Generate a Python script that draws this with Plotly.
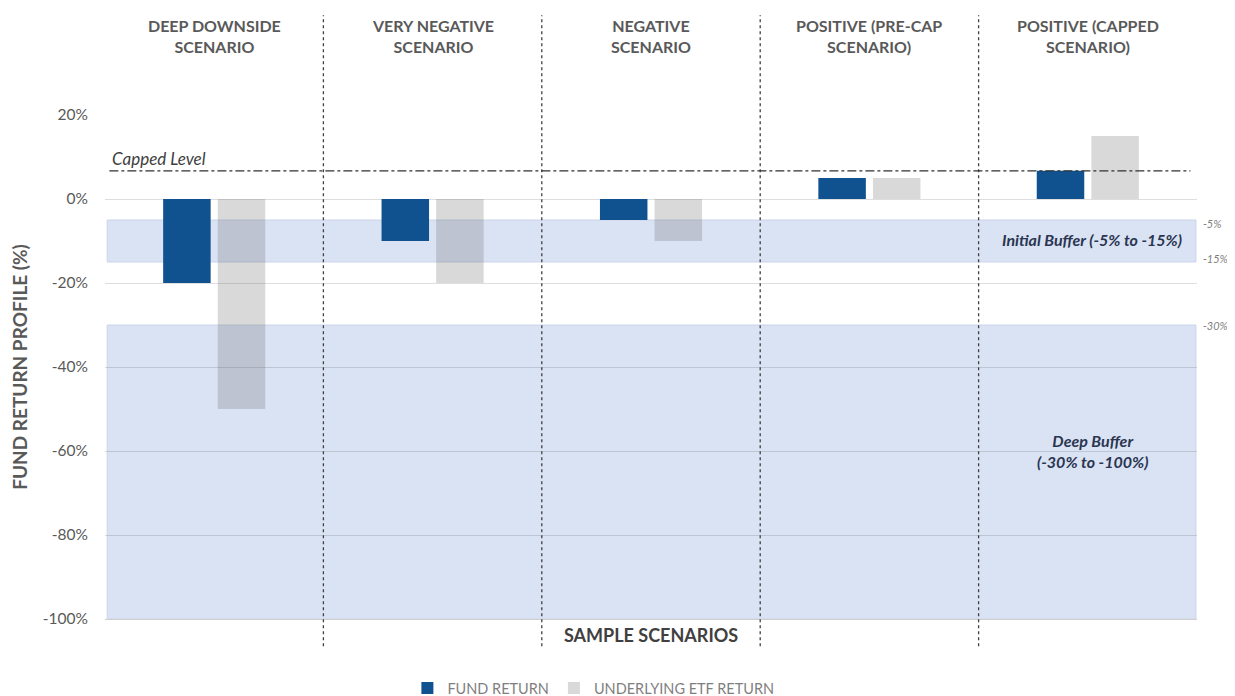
import plotly.graph_objects as go

categories = ["DEEP DOWNSIDE<br>SCENARIO", "VERY NEGATIVE<br>SCENARIO", "NEGATIVE<br>SCENARIO",
              "POSITIVE (PRE-CAP<br>SCENARIO)", "POSITIVE (CAPPED<br>SCENARIO)"]
fund_return = [-20, -10, -5, 5, 6.7]
etf_return = [-50, -20, -10, 5, 15]
cap_level = 6.7
initial_buffer = [-5, -15]
deep_buffer = [-30, -100]
y_ticks = [20, 0, -20, -40, -60, -80, -100]
y_ticktext = ["20%", "0%", "-20%", "-40%", "-60%", "-80%", "-100%"]

FONT = "Lato"
GRAY = "#595959"
x_idx = list(range(len(categories)))

fig = go.Figure()
fig.add_trace(go.Bar(x=x_idx, y=fund_return, name="FUND RETURN",
                     marker=dict(color="#10528f", line=dict(width=0))))
fig.add_trace(go.Bar(x=x_idx, y=etf_return, name="UNDERLYING ETF RETURN",
                     marker=dict(color="rgba(97,97,97,0.24)", line=dict(width=0))))

band_fill = "rgb(218,227,243)"
band_line = "rgb(202,212,232)"
for lo_hi in (initial_buffer, deep_buffer):
    fig.add_shape(type="rect", xref="x", yref="y", x0=-0.49, x1=4.495,
                  y0=lo_hi[0], y1=lo_hi[1], fillcolor=band_fill,
                  line=dict(color=band_line, width=1), layer="below")

# vertical dividers between scenarios
for i in range(len(categories) - 1):
    fig.add_shape(type="line", xref="x", yref="paper", x0=i + 0.5, x1=i + 0.5,
                  y0=-0.054, y1=1.198, line=dict(color="#404040", width=1.3, dash="dot"))

# capped level line
fig.add_shape(type="line", xref="x", yref="y", x0=-0.48, x1=4.47, y0=cap_level, y1=cap_level,
              line=dict(color="#303030", width=1.1, dash="dashdot"))

ann = []
for i, c in enumerate(categories):
    ann.append(dict(x=i, y=1.157, xref="x", yref="paper", text="<b>" + c + "</b>",
                    showarrow=False, yanchor="middle",
                    font=dict(family=FONT, size=16, color=GRAY)))
ann.append(dict(x=-0.475, y=cap_level, xref="x", yref="y", text="<i>Capped Level</i>",
                showarrow=False, xanchor="left", yanchor="bottom", yshift=0,
                font=dict(family=FONT, size=17, color="#404040")))
ann.append(dict(x=4.44, y=sum(initial_buffer) / 2, xref="x", yref="y",
                text="<b><i>Initial Buffer (-5% to -15%)</i></b>", showarrow=False,
                xanchor="right", yshift=2, font=dict(family=FONT, size=16, color="#2a3552")))
ann.append(dict(x=4.02, y=-60, xref="x", yref="y",
                text="<b><i>Deep Buffer<br>(-30% to -100%)</i></b>", showarrow=False,
                font=dict(family=FONT, size=16, color="#2a3552")))
for v, ys in ((initial_buffer[0], -3), (initial_buffer[1], 4), (deep_buffer[0], 0)):
    ann.append(dict(x=1, y=v, xref="paper", yref="y", text="<i>%d%%</i>" % v,
                    showarrow=False, xanchor="left", xshift=4, yshift=ys,
                    font=dict(family=FONT, size=11, color="#7f7f7f")))
ann.append(dict(x=0.5, y=0, xref="paper", yref="paper", text="<b>SAMPLE SCENARIOS</b>",
                showarrow=False, yanchor="top", yshift=-3,
                font=dict(family=FONT, size=18, color="#404040")))

fig.update_layout(
    width=1235, height=696,
    margin=dict(l=95, r=46, t=107, b=85),
    paper_bgcolor="white", plot_bgcolor="white",
    barmode="group", bargap=0.5, bargroupgap=0.13,
    showlegend=True,
    legend=dict(orientation="h", xref="container", yref="container",
                x=0.474, xanchor="center", y=0.023, yanchor="middle",
                font=dict(family=FONT, size=14.5, color="#7f7f7f"), itemwidth=30),
    annotations=ann,
    font=dict(family=FONT),
)
fig.update_xaxes(range=[-0.5, 4.5], showticklabels=False, showgrid=False, zeroline=False,
                 showline=True, linecolor="#d0d0d0", linewidth=1)
fig.update_yaxes(range=[-100, 20], tickvals=y_ticks, ticktext=y_ticktext,
                 showgrid=True, gridcolor="rgba(0,0,0,0.13)", gridwidth=1,
                 zeroline=True, zerolinecolor="rgba(0,0,0,0.13)", zerolinewidth=1,
                 ticklabelstandoff=16,
                 tickfont=dict(family=FONT, size=15.5, color=GRAY),
                 title=dict(text="<b>FUND RETURN PROFILE (%)</b>", standoff=10,
                            font=dict(family=FONT, size=19, color=GRAY)))

fig.write_html("out.html")
